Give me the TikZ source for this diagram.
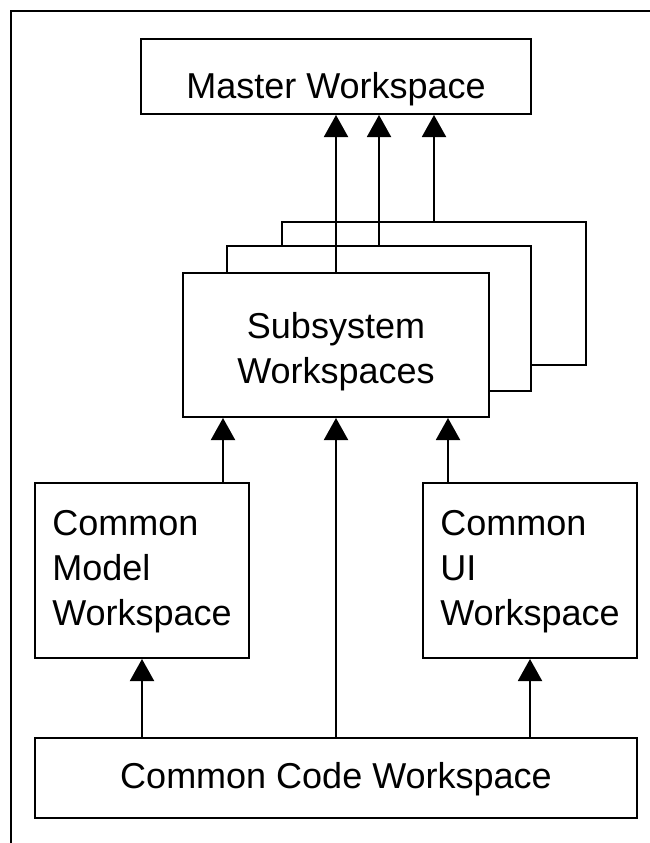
\documentclass[tikz,border=0pt]{standalone}
\usepackage{fontspec}
\setmainfont{Liberation Sans}
\usetikzlibrary{arrows.meta}
\tikzset{ws/.style = {draw, line width=2pt, fill=white, inner sep=0pt, text depth=0pt, font=\fontsize{36}{45}\selectfont}}
\tikzset{flow/.style = {line width=2pt, -{Triangle[length=22pt, width=24pt]}}}

\begin{document}
\begin{tikzpicture}[x=1pt, y=-1pt]
\useasboundingbox (0,0) rectangle (650,843);
\draw[line width=2pt] (650,11) -- (11,11) -- (11,843);
\node[ws, minimum width=390pt, minimum height=75pt, text height=43pt] (master) at (336,76.5) {Master Workspace};
\node[ws, minimum width=304pt, minimum height=143pt] (sub3) at (434,293.5) {};
\node[ws, minimum width=304pt, minimum height=145pt] (sub2) at (379,318.5) {};
\node[ws, minimum width=306pt, minimum height=144pt, align=center, text height=76pt] (sub) at (336,345) {Subsystem\\Workspaces};
\node[ws, minimum width=214pt, minimum height=175pt, align=left, text height=109pt] (model) at (142,570.5) {Common\\Model\\Workspace};
\node[ws, minimum width=214pt, minimum height=175pt, align=left, text height=109pt] (ui) at (530,570.5) {Common\\UI\\Workspace};
\node[ws, minimum width=602pt, minimum height=80pt, text height=20pt] (code) at (336,778) {Common Code Workspace};
\draw[flow] (sub.north) -- (sub.north |- master.south);
\draw[flow] (sub2.north) -- (sub2.north |- master.south);
\draw[flow] (sub3.north) -- (sub3.north |- master.south);
\draw[flow] ([xshift=81pt]model.north) -- ([xshift=81pt]model.north |- sub.south);
\draw[flow] (code.north) -- (code.north |- sub.south);
\draw[flow] ([xshift=-82pt]ui.north) -- ([xshift=-82pt]ui.north |- sub.south);
\draw[flow] (code.north -| model.south) -- (model.south);
\draw[flow] (code.north -| ui.south) -- (ui.south);
\end{tikzpicture}
\end{document}
